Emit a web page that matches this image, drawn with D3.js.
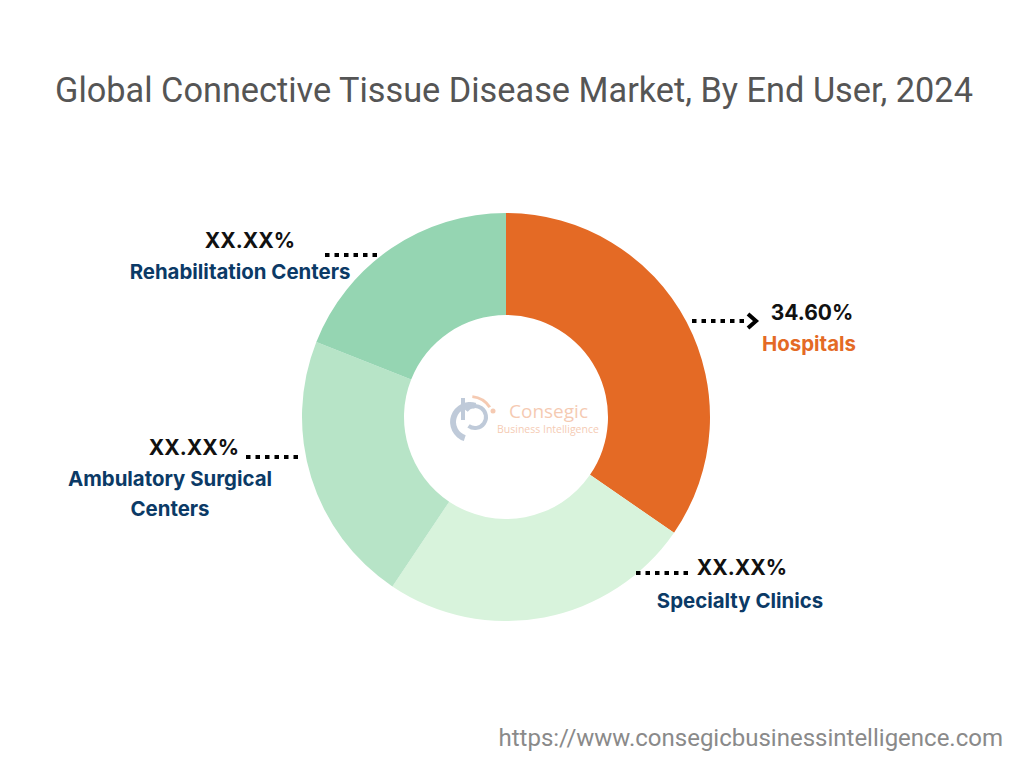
<!DOCTYPE html>
<html><head><meta charset="utf-8">
<script src="https://cdn.jsdelivr.net/npm/d3@7"></script>
<style>body{margin:0;background:#fff;}svg{display:block;}</style>
</head><body>
<svg id="chart" width="1024" height="768"></svg>
<script>
const categories = ["Hospitals", "Specialty Clinics", "Ambulatory Surgical Centers", "Rehabilitation Centers"];
const values = [34.6, 24.8, 21.6, 19.0];
const valueLabels = ["34.60%", "XX.XX%", "XX.XX%", "XX.XX%"];
const colors = ["#E46A25", "#D8F3DC", "#B7E4C7", "#95D5B2"];

const svg = d3.select("#chart");
const cx = 506, cy = 417, rOuter = 204, rInner = 102;

svg.append("text").attr("x", 514).attr("y", 102).attr("text-anchor", "middle")
  .attr("font-family", "Roboto, 'Open Sans', sans-serif").attr("font-size", 34.3)
  .attr("fill", "#555").text("Global Connective Tissue Disease Market, By End User, 2024");

const pie = d3.pie().sort(null).value(d => d);
const arc = d3.arc().innerRadius(rInner).outerRadius(rOuter);
const g = svg.append("g").attr("transform", `translate(${cx},${cy})`);
g.selectAll("path").data(pie(values)).join("path")
  .attr("d", arc).attr("fill", (d, i) => colors[i]);

// logo
const logo = svg.append("g").attr("opacity", 0.35);
logo.append("path").attr("d", d3.arc()({innerRadius: 14, outerRadius: 20, startAngle: Math.PI*1.1, endAngle: Math.PI*2.1}))
  .attr("transform", "translate(470,422)").attr("fill", "#4a6b93");
logo.append("path").attr("d", d3.arc()({innerRadius: 9, outerRadius: 13, startAngle: -Math.PI*0.3, endAngle: Math.PI*1.2}))
  .attr("transform", "translate(475,417)").attr("fill", "#4a6b93");
logo.append("rect").attr("x", 461).attr("y", 398).attr("width", 4).attr("height", 22).attr("fill", "#4a6b93");
logo.append("path").attr("d", d3.arc()({innerRadius: 22, outerRadius: 25, startAngle: 0.1, endAngle: 1.0}))
  .attr("transform", "translate(470,420)").attr("fill", "#E46A25");
logo.append("circle").attr("cx", 493).attr("cy", 411).attr("r", 2.5).attr("fill", "#E46A25");
logo.append("text").attr("x", 509).attr("y", 418).attr("font-family", "'Open Sans', sans-serif")
  .attr("font-size", 19).attr("fill", "#E46A25").text("Consegic");
logo.append("text").attr("x", 497).attr("y", 433).attr("font-family", "'Open Sans', sans-serif")
  .attr("font-size", 10.5).attr("fill", "#E46A25").text("Business Intelligence");

// labels
const labelFont = "Inter, Roboto, sans-serif";
const labels = [
  {pct: [812, 320], name: [[809, 351]], color: "#E46A25", dots: [692, 748, 321], arrow: true},
  {pct: [742, 575], name: [[740, 608]], color: "#0B3A66", dots: [636, 690, 573]},
  {pct: [194, 455], name: [[170, 486], [170, 516]], color: "#0B3A66", dots: [246, 302, 457], lines: ["Ambulatory Surgical", "Centers"]},
  {pct: [250, 248], name: [[240, 279]], color: "#0B3A66", dots: [325, 380, 255]}
];
labels.forEach((L, i) => {
  svg.append("text").attr("x", L.pct[0]).attr("y", L.pct[1]).attr("text-anchor", "middle")
    .attr("font-family", labelFont).attr("font-weight", 700).attr("font-size", 21)
    .attr("fill", "#111").text(valueLabels[i]);
  const lines = L.lines || [categories[i]];
  lines.forEach((t, j) => {
    svg.append("text").attr("x", L.name[j][0]).attr("y", L.name[j][1]).attr("text-anchor", "middle")
      .attr("font-family", labelFont).attr("font-weight", 700).attr("font-size", 20.4)
      .attr("fill", L.color).text(t);
  });
  svg.append("line").attr("x1", L.dots[0]).attr("x2", L.dots[1]).attr("y1", L.dots[2]).attr("y2", L.dots[2])
    .attr("stroke", "#000").attr("stroke-width", 4).attr("stroke-dasharray", "4.5,5");
  if (L.arrow) {
    svg.append("path").attr("d", `M${L.dots[1]},${L.dots[2]-7} L${L.dots[1]+8},${L.dots[2]} L${L.dots[1]},${L.dots[2]+7}`)
      .attr("fill", "none").attr("stroke", "#000").attr("stroke-width", 4);
  }
});

svg.append("text").attr("x", 1003).attr("y", 746).attr("text-anchor", "end")
  .attr("font-family", "Roboto, 'Open Sans', sans-serif").attr("font-size", 24)
  .attr("fill", "#8a8a8a").text("https://www.consegicbusinessintelligence.com");
</script>
</body></html>
